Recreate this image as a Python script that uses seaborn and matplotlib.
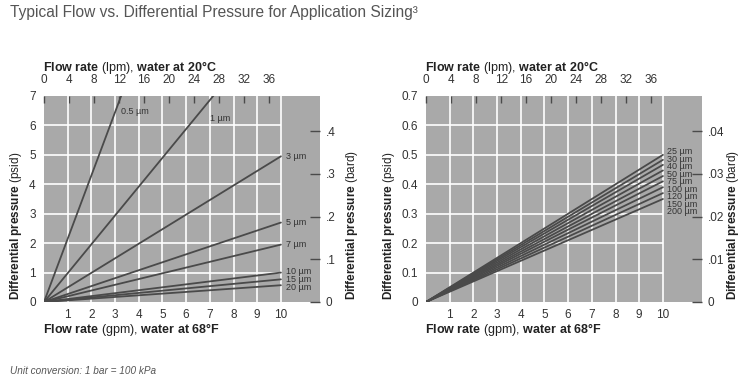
import numpy as np
import pandas as pd
import seaborn as sns
import matplotlib.pyplot as plt

# flow in gpm, pressure drop in psid (straight lines through the origin)
flow_gpm = [0, 10]

grades_left = ["0.5 µm", "1 µm", "3 µm", "5 µm", "7 µm", "10 µm", "15 µm", "20 µm"]
psid_at_10_left = [21.5, 9.8, 4.95, 2.7, 1.95, 1.0, 0.77, 0.57]

grades_right = ["25 µm", "30 µm", "40 µm", "50 µm", "75 µm", "100 µm", "120 µm", "150 µm", "200 µm"]
psid_at_10_right = [0.50, 0.483, 0.466, 0.447, 0.428, 0.410, 0.390, 0.370, 0.350]

gpm_ticks = list(range(1, 11))
lpm_ticks = list(range(0, 37, 4))
psid_ticks_left = list(range(0, 8))
psid_ticks_right = [0, 0.1, 0.2, 0.3, 0.4, 0.5, 0.6, 0.7]
bard_ticks_left = [0, 0.1, 0.2, 0.3, 0.4]
bard_labels_left = ["0", ".1", ".2", ".3", ".4"]
bard_ticks_right = [0, 0.01, 0.02, 0.03, 0.04]
bard_labels_right = ["0", ".01", ".02", ".03", ".04"]

GPM_TO_LPM = 3.785
PSI_PER_BAR = 14.5

FACE = "#a9a9a9"
LINE = "#4a4a4a"
TEXT = "#333333"

sns.set_style("white", {"axes.facecolor": FACE})
plt.rcParams["font.family"] = ["Liberation Sans", "DejaVu Sans"]
plt.rcParams["mathtext.fontset"] = "custom"
plt.rcParams["mathtext.rm"] = "Liberation Sans"
plt.rcParams["mathtext.bf"] = "Liberation Sans:bold"
plt.rcParams["mathtext.it"] = "Liberation Sans:italic"

W, H = 750, 380
fig = plt.figure(figsize=(7.5, 3.8), dpi=100)


def long_frame(grades, ends):
    rows = []
    for g, v in zip(grades, ends):
        for f in flow_gpm:
            rows.append({"grade": g, "gpm": f, "psid": v * f / flow_gpm[-1]})
    return pd.DataFrame(rows)


def px(x, y):
    return x / W, 1 - y / H


def setup_panel(left_px, df, ymax, yticks, ylabels, bticks, blabels):
    ax = fig.add_axes([left_px / W, 78 / H, 276 / W, 206 / H])
    ax.set_xlim(0, 11.65)
    ax.set_ylim(0, ymax)

    # white grid only over the 0-10 gpm area
    ax.vlines(gpm_ticks, 0, ymax, color="white", lw=1.2, zorder=1)
    ax.hlines(yticks[1:-1], 0, 10, color="white", lw=1.2, zorder=1)

    sns.lineplot(data=df, x="gpm", y="psid", units="grade", estimator=None,
                 color=LINE, lw=1.3, ax=ax, zorder=3)

    ax.set_xticks(gpm_ticks)
    ax.set_yticks(yticks)
    ax.set_yticklabels(ylabels)
    ax.tick_params(axis="both", length=0, labelsize=8.5, labelcolor=TEXT)
    ax.tick_params(axis="x", pad=5)
    ax.tick_params(axis="y", pad=6)
    ax.set_xlabel("")
    ax.set_ylabel("")
    for s in ax.spines.values():
        s.set_visible(False)

    top = ax.secondary_xaxis("top", functions=(lambda g: g * GPM_TO_LPM,
                                               lambda l: l / GPM_TO_LPM))
    top.set_xticks(lpm_ticks)
    top.tick_params(direction="in", length=5, width=1, color=LINE,
                    labelsize=8.5, labelcolor=TEXT, pad=7)
    top.spines["top"].set_visible(False)

    right = ax.secondary_yaxis("right", functions=(lambda p: p / PSI_PER_BAR,
                                                   lambda b: b * PSI_PER_BAR))
    right.set_yticks(bticks)
    right.set_yticklabels(blabels)
    right.tick_params(direction="in", length=7, width=1, color=LINE,
                      labelsize=8.5, labelcolor=TEXT, pad=4)
    right.spines["right"].set_visible(False)
    return ax


df_left = long_frame(grades_left, psid_at_10_left)
df_right = long_frame(grades_right, psid_at_10_right)

ax1 = setup_panel(44, df_left, 7, psid_ticks_left,
                  [str(t) for t in psid_ticks_left], bard_ticks_left, bard_labels_left)
ax2 = setup_panel(426, df_right, 0.7, psid_ticks_right,
                  ["0"] + [f"{t:.1f}" for t in psid_ticks_right[1:]],
                  bard_ticks_right, bard_labels_right)

lab = dict(fontsize=6.5, color=TEXT, ha="left", va="center", textcoords="offset points")

# left panel labels: steep lines labelled near the top, others at the 10 gpm end
for g, v, dx, dy in [(grades_left[0], psid_at_10_left[0], 2, -5),
                     (grades_left[1], psid_at_10_left[1], 3, -10)]:
    yy = 6.7
    ax1.annotate(g, xy=(yy / v * 10, yy), xytext=(dx, dy), **lab)
for g, v in zip(grades_left[2:5], psid_at_10_left[2:5]):
    ax1.annotate(g, xy=(10, v), xytext=(4, 0), **lab)
for i, g in enumerate(grades_left[5:]):
    ax1.annotate(g, xy=(10, psid_at_10_left[5]), xytext=(4, 0.8 - i * 5.8), **lab)

for i, g in enumerate(grades_right):
    ax2.annotate(g, xy=(10, psid_at_10_right[0]), xytext=(3, 2.4 - i * 5.4),
                 fontsize=6.5, color=TEXT, ha="left", va="center",
                 textcoords="offset points")

# axis titles (bold with normal unit part)
top_lbl = r"$\mathbf{Flow\ rate}$ (lpm), $\mathbf{water\ at\ 20°C}$"
bot_lbl = r"$\mathbf{Flow\ rate}$ (gpm), $\mathbf{water\ at\ 68°F}$"
psid_lbl = r"$\mathbf{Differential\ pressure}$ (psid)"
bard_lbl = r"$\mathbf{Differential\ pressure}$ (bard)"

for x0 in (43, 425):
    fig.text(*px(x0, 67), top_lbl, fontsize=9, color="#222222", ha="left", va="center")
    fig.text(*px(x0, 330), bot_lbl, fontsize=9, color="#222222", ha="left", va="center")
for x0, lbl in [(16, psid_lbl), (352, bard_lbl), (389, psid_lbl), (733, bard_lbl)]:
    fig.text(*px(x0, 300), lbl, fontsize=8.5, color="#222222", rotation=90,
             ha="center", va="bottom")

fig.text(*px(10, 12), "Typical Flow vs. Differential Pressure for Application Sizing³",
         fontsize=11.2, color="#555555", ha="left", va="center")
fig.text(*px(10, 371), "Unit conversion: 1 bar = 100 kPa", fontsize=7.2,
         style="italic", color="#555555", ha="left", va="center")

fig.savefig("out.png", dpi=100)
